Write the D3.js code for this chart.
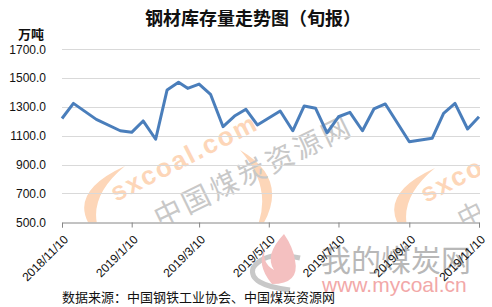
<!DOCTYPE html>
<html><head><meta charset="utf-8">
<script src="https://cdn.jsdelivr.net/npm/d3@7"></script>
<style>
body{margin:0;background:#fff;}
svg{display:block;}
</style></head>
<body><svg id="c" width="492" height="307"></svg>
<script>
const dates = ["2018-11-10","2018-11-20","2018-12-10","2018-12-31","2019-01-10","2019-01-20","2019-01-31","2019-02-10","2019-02-20","2019-02-28","2019-03-10","2019-03-20","2019-03-31","2019-04-10","2019-04-20","2019-04-30","2019-05-20","2019-05-31","2019-06-10","2019-06-20","2019-06-30","2019-07-10","2019-07-20","2019-07-31","2019-08-10","2019-08-20","2019-09-10","2019-09-30","2019-10-10","2019-10-20","2019-10-31","2019-11-10"];
const values = [1220,1325,1214,1135,1124,1203,1076,1418,1471,1429,1459,1388,1163,1237,1284,1175,1272,1135,1307,1291,1121,1232,1263,1135,1286,1321,1059,1083,1256,1325,1147,1232];
const xTickDates = ["2018-11-10","2019-01-10","2019-03-10","2019-05-10","2019-07-10","2019-09-10","2019-11-10"];
const xTickLabels = ["2018/11/10","2019/1/10","2019/3/10","2019/5/10","2019/7/10","2019/9/10","2019/11/10"];
const yTicks = [500,700,900,1100,1300,1500,1700];
const title = "钢材库存量走势图（旬报）";
const unit = "万吨";
const source = "数据来源：中国钢铁工业协会、中国煤炭资源网";

const parse = d3.timeParse("%Y-%m-%d");
const data = dates.map((d,i)=>({date:parse(d), value:values[i]}));
const svg = d3.select("#c");
const L=62, R=479, T=49.3, B=222.3;
const x = d3.scaleTime().domain([parse(dates[0]), parse(dates[dates.length-1])]).range([L,R]);
const y = d3.scaleLinear().domain([500,1700]).range([B,T]);
const cjk = "'Noto Sans CJK SC', sans-serif";
const lat = "'Liberation Sans', Arial, sans-serif";

// watermarks
svg.append("clipPath").attr("id","pa").append("rect").attr("x",L).attr("y",T).attr("width",R-L+1).attr("height",B-T);
const wm = svg.append("g").attr("clip-path","url(#pa)");
const orange = "#fdd6b8";
function crescentL(g, cx, cy){
  g.append("path").attr("fill",orange)
   .attr("d",`M${cx+40},${cy-32} Q${cx-30},${cy} ${cx+20},${cy+45} Q${cx-5},${cy+5} ${cx+40},${cy-32} Z`);
}
crescentL(wm, 85, 198);
wm.append("path").attr("fill",orange)
  .attr("d","M240,150 Q300,185 248,245 Q280,195 240,150 Z");
wm.append("text").attr("transform","translate(116,202) rotate(-27)")
  .attr("font-family",lat).attr("font-weight","bold").attr("font-size",26)
  .attr("letter-spacing",2).attr("fill",orange).text("sxcoal.com");
wm.append("text").attr("transform","translate(160,228) rotate(-26)")
  .attr("font-family",cjk).attr("font-size",28).attr("letter-spacing",3)
  .attr("fill","#c8c8c8").text("中国煤炭资源网");
crescentL(wm, 395, 200);
wm.append("text").attr("transform","translate(426,203) rotate(-27)")
  .attr("font-family",lat).attr("font-weight","bold").attr("font-size",26)
  .attr("letter-spacing",2).attr("fill",orange).text("sxco");
wm.append("text").attr("transform","translate(463,229) rotate(-26)")
  .attr("font-family",cjk).attr("font-size",26)
  .attr("fill","#c8c8c8").text("中");

// mycoal logo
const lg = svg.append("g");
lg.append("path").attr("fill","none").attr("stroke","#c8c8c8").attr("stroke-width",5)
  .attr("d","M300,258 Q265,250 253,268 Q248,285 290,290");
lg.append("path").attr("fill","#f4c0c0")
  .attr("d","M284,234 Q264,255 274,270 Q260,262 266,246 Q255,264 272,284 Q300,284 295,260 Q293,247 284,234 Z");
lg.append("text").attr("x",321).attr("y",271).attr("font-family",cjk).attr("font-size",30)
  .attr("fill","#b8b8b8").text("我的煤炭网");
lg.append("text").attr("x",322).attr("y",292).attr("font-family",lat).attr("font-size",21)
  .attr("fill","#f2a8a8").text("www.mycoal.cn");

// gridlines
svg.append("g").selectAll("line").data(yTicks.filter(v=>v>500)).join("line")
  .attr("x1",L).attr("x2",R+1).attr("y1",d=>Math.round(y(d))+0.5).attr("y2",d=>Math.round(y(d))+0.5)
  .attr("stroke","#d9d9d9").attr("stroke-width",1);

// y labels
svg.append("g").selectAll("text").data(yTicks).join("text")
  .attr("x",46).attr("y",d=>y(d)).attr("dy","0.35em").attr("text-anchor","end")
  .attr("font-family",lat).attr("font-size",12).attr("fill","#111")
  .text(d=>d3.format(".1f")(d));

// x axis
const xa = svg.append("g").attr("transform",`translate(0,${Math.round(B)+0.5})`)
  .call(d3.axisBottom(x).tickValues(xTickDates.map(parse)).tickSize(5).tickFormat(""));
xa.select(".domain").attr("stroke","#868686");
xa.selectAll(".tick line").attr("stroke","#868686");
svg.append("g").selectAll("text").data(xTickDates).join("text")
  .attr("transform",d=>`translate(${x(parse(d))+4},${B+15}) rotate(-45)`)
  .attr("text-anchor","end").attr("dy","0.35em")
  .attr("font-family",lat).attr("font-size",12).attr("fill","#111")
  .text((d,i)=>xTickLabels[i]);

// line
svg.append("path").datum(data)
  .attr("fill","none").attr("stroke","#4a7ebb").attr("stroke-width",3).attr("stroke-linejoin","round")
  .attr("d",d3.line().x(d=>x(d.date)).y(d=>y(d.value)));

// titles
svg.append("text").attr("x",253).attr("y",25).attr("text-anchor","middle")
  .attr("font-family",cjk).attr("font-weight","bold").attr("font-size",18).attr("fill","#111").text(title);
svg.append("text").attr("x",31).attr("y",39).attr("text-anchor","middle")
  .attr("font-family",cjk).attr("font-weight","bold").attr("font-size",13).attr("fill","#111").text(unit);
svg.append("text").attr("x",62).attr("y",302)
  .attr("font-family",cjk).attr("font-size",13).attr("fill","#111").text(source);
</script></body></html>
